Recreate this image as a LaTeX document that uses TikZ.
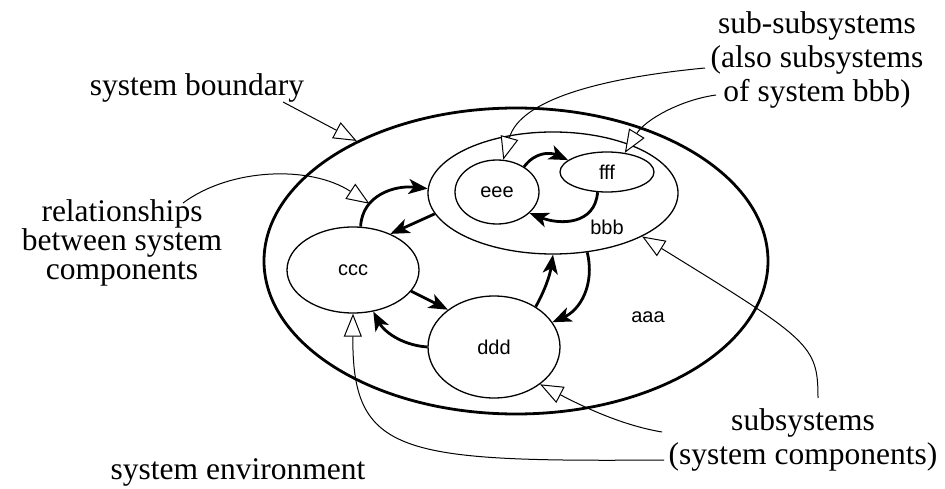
\documentclass[tikz,border=0pt]{standalone}
\usepackage{fontspec}
\setmainfont{Liberation Serif}
\newfontfamily\partfont{Liberation Sans}
\usetikzlibrary{shapes.geometric,arrows.meta}
\tikzset{
    part/.style={draw, ellipse, line width=1.3pt, inner sep=2pt, font=\partfont\fontsize{20}{24}\selectfont},
    tag/.style={font=\partfont\fontsize{20}{24}\selectfont},
    flow/.style={line width=2.8pt, -{Stealth[length=19pt,width=15pt,inset=5pt]}},
    callout/.style={line width=1pt, -{Triangle[open,fill=white,length=23pt,width=18pt]}},
    note/.style={align=center, inner sep=0pt, font=\fontsize{31.5}{34}\selectfont}
}

\begin{document}
\begin{tikzpicture}[x=1pt,y=-1pt]
  % Page frame (pixel grid, y downwards)
  \useasboundingbox (0,0) rectangle (945,489);

  % System and its parts
  \node[part, line width=2.8pt, minimum width=504pt, minimum height=306pt] (aaa) at (516,261) {};
  \node[tag] (aaatext) at (648,317) {aaa};
  \node[part, minimum width=250pt, minimum height=122pt] (bbb) at (553,193) {};
  \node[tag] (bbbtext) at (607,227) {bbb};
  \node[part, minimum width=84pt, minimum height=64pt] (eee) at (497,192) {eee};
  \node[part, minimum width=94pt, minimum height=40pt] (fff) at (607,172) {fff};
  \node[part, minimum width=132pt, minimum height=86pt] (ccc) at (353,270) {ccc};
  \node[part, minimum width=132pt, minimum height=102pt] (ddd) at (494,347) {ddd};

  % Relationships between the parts
  \draw[flow] (ccc.80) .. controls (362,195) and (395,185) .. (bbb.178) coordinate[pos=0.3] (rel);
  \draw[flow] (bbb.190) -- (ccc.44);
  \draw[flow] (eee.43) .. controls (535,152) and (550,152) .. (fff.163);
  \draw[flow] (fff.245) .. controls (595,225) and (560,225) .. (eee.327);
  \draw[flow] (ccc.340) -- (ddd.141);
  \draw[flow] (ddd.180) .. controls (400,345) and (383,330) .. (ccc.296);
  \draw[flow] (ddd.44) .. controls (545,290) and (550,275) .. (bbb.270);
  \draw[flow] (bbb.300) .. controls (595,285) and (580,310) .. (ddd.23);

  % Labels
  \node[note] (sysbound) at (197,88) {system boundary};
  \node[note, font=\fontsize{31.5}{29}\selectfont] (relat) at (122,243) {relationships\\between system\\components};
  \node[note] (subsub) at (817,60) {sub-subsystems\\(also subsystems\\of system bbb)};
  \node[note] (subsys) at (803,440) {subsystems\\(system components)};
  \node[note] (sysenv) at (238,472) {system environment};

  % Free ends of the callouts
  \coordinate (sbfrom) at (283,102);
  \coordinate (relfrom) at (183,203);
  \coordinate (alsofrom) at (705,68);
  \coordinate (bbbfrom) at (716,95);
  \coordinate (subA) at (818,398);
  \coordinate (subB) at (662,432);
  \coordinate (subC) at (664,460);

  % Callouts
  \draw[callout] (sbfrom) -- (aaa.143);
  \draw[callout] (relfrom) .. controls (230,168) and (310,165) .. (rel);
  \draw[callout] (alsofrom) .. controls (600,78) and (520,100) .. (eee.79);
  \draw[callout] (bbbfrom) .. controls (680,100) and (645,120) .. (fff.47);
  \draw[callout] (subA) .. controls (818,345) and (810,340) .. (bbb.334);
  \draw[callout] (subB) .. controls (620,425) and (580,405) .. (ddd.321);
  \draw[callout] (subC) .. controls (400,462) and (352,455) .. (ccc.270);

\end{tikzpicture}
\end{document}
